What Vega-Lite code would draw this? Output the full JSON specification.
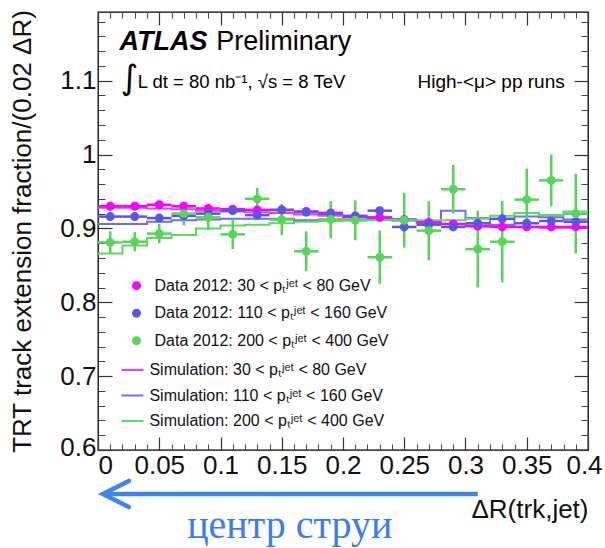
{
  "$schema": "https://vega.github.io/schema/vega-lite/v6.json",
  "width": 490,
  "height": 438,
  "autosize": {"type": "none"},
  "padding": {"left": 98, "top": 12, "right": 17, "bottom": 98},
  "background": "white",
  "datasets": {
    "pts": [
      {"s": "Data 2012: 30 < pₜʲᵉᵗ < 80 GeV", "x": 0.01, "y": 0.930, "e": 0.003, "dx": 0.01},
      {"s": "Data 2012: 30 < pₜʲᵉᵗ < 80 GeV", "x": 0.03, "y": 0.930, "e": 0.003, "dx": 0.01},
      {"s": "Data 2012: 30 < pₜʲᵉᵗ < 80 GeV", "x": 0.05, "y": 0.932, "e": 0.003, "dx": 0.01},
      {"s": "Data 2012: 30 < pₜʲᵉᵗ < 80 GeV", "x": 0.07, "y": 0.930, "e": 0.003, "dx": 0.01},
      {"s": "Data 2012: 30 < pₜʲᵉᵗ < 80 GeV", "x": 0.09, "y": 0.927, "e": 0.003, "dx": 0.01},
      {"s": "Data 2012: 30 < pₜʲᵉᵗ < 80 GeV", "x": 0.11, "y": 0.926, "e": 0.003, "dx": 0.01},
      {"s": "Data 2012: 30 < pₜʲᵉᵗ < 80 GeV", "x": 0.13, "y": 0.925, "e": 0.003, "dx": 0.01},
      {"s": "Data 2012: 30 < pₜʲᵉᵗ < 80 GeV", "x": 0.15, "y": 0.925, "e": 0.003, "dx": 0.01},
      {"s": "Data 2012: 30 < pₜʲᵉᵗ < 80 GeV", "x": 0.17, "y": 0.923, "e": 0.003, "dx": 0.01},
      {"s": "Data 2012: 30 < pₜʲᵉᵗ < 80 GeV", "x": 0.19, "y": 0.921, "e": 0.003, "dx": 0.01},
      {"s": "Data 2012: 30 < pₜʲᵉᵗ < 80 GeV", "x": 0.21, "y": 0.916, "e": 0.003, "dx": 0.01},
      {"s": "Data 2012: 30 < pₜʲᵉᵗ < 80 GeV", "x": 0.23, "y": 0.915, "e": 0.003, "dx": 0.01},
      {"s": "Data 2012: 30 < pₜʲᵉᵗ < 80 GeV", "x": 0.25, "y": 0.912, "e": 0.003, "dx": 0.01},
      {"s": "Data 2012: 30 < pₜʲᵉᵗ < 80 GeV", "x": 0.27, "y": 0.908, "e": 0.003, "dx": 0.01},
      {"s": "Data 2012: 30 < pₜʲᵉᵗ < 80 GeV", "x": 0.29, "y": 0.906, "e": 0.003, "dx": 0.01},
      {"s": "Data 2012: 30 < pₜʲᵉᵗ < 80 GeV", "x": 0.31, "y": 0.903, "e": 0.003, "dx": 0.01},
      {"s": "Data 2012: 30 < pₜʲᵉᵗ < 80 GeV", "x": 0.33, "y": 0.902, "e": 0.003, "dx": 0.01},
      {"s": "Data 2012: 30 < pₜʲᵉᵗ < 80 GeV", "x": 0.35, "y": 0.902, "e": 0.003, "dx": 0.01},
      {"s": "Data 2012: 30 < pₜʲᵉᵗ < 80 GeV", "x": 0.37, "y": 0.902, "e": 0.003, "dx": 0.01},
      {"s": "Data 2012: 30 < pₜʲᵉᵗ < 80 GeV", "x": 0.39, "y": 0.902, "e": 0.003, "dx": 0.01},
      {"s": "Data 2012: 110 < pₜʲᵉᵗ < 160 GeV", "x": 0.01, "y": 0.916, "e": 0.004, "dx": 0.01},
      {"s": "Data 2012: 110 < pₜʲᵉᵗ < 160 GeV", "x": 0.03, "y": 0.916, "e": 0.004, "dx": 0.01},
      {"s": "Data 2012: 110 < pₜʲᵉᵗ < 160 GeV", "x": 0.05, "y": 0.914, "e": 0.004, "dx": 0.01},
      {"s": "Data 2012: 110 < pₜʲᵉᵗ < 160 GeV", "x": 0.07, "y": 0.917, "e": 0.004, "dx": 0.01},
      {"s": "Data 2012: 110 < pₜʲᵉᵗ < 160 GeV", "x": 0.09, "y": 0.920, "e": 0.004, "dx": 0.01},
      {"s": "Data 2012: 110 < pₜʲᵉᵗ < 160 GeV", "x": 0.11, "y": 0.924, "e": 0.004, "dx": 0.01},
      {"s": "Data 2012: 110 < pₜʲᵉᵗ < 160 GeV", "x": 0.13, "y": 0.918, "e": 0.004, "dx": 0.01},
      {"s": "Data 2012: 110 < pₜʲᵉᵗ < 160 GeV", "x": 0.15, "y": 0.925, "e": 0.004, "dx": 0.01},
      {"s": "Data 2012: 110 < pₜʲᵉᵗ < 160 GeV", "x": 0.17, "y": 0.922, "e": 0.004, "dx": 0.01},
      {"s": "Data 2012: 110 < pₜʲᵉᵗ < 160 GeV", "x": 0.19, "y": 0.920, "e": 0.004, "dx": 0.01},
      {"s": "Data 2012: 110 < pₜʲᵉᵗ < 160 GeV", "x": 0.21, "y": 0.917, "e": 0.004, "dx": 0.01},
      {"s": "Data 2012: 110 < pₜʲᵉᵗ < 160 GeV", "x": 0.23, "y": 0.924, "e": 0.004, "dx": 0.01},
      {"s": "Data 2012: 110 < pₜʲᵉᵗ < 160 GeV", "x": 0.25, "y": 0.902, "e": 0.004, "dx": 0.01},
      {"s": "Data 2012: 110 < pₜʲᵉᵗ < 160 GeV", "x": 0.27, "y": 0.905, "e": 0.004, "dx": 0.01},
      {"s": "Data 2012: 110 < pₜʲᵉᵗ < 160 GeV", "x": 0.29, "y": 0.902, "e": 0.004, "dx": 0.01},
      {"s": "Data 2012: 110 < pₜʲᵉᵗ < 160 GeV", "x": 0.31, "y": 0.907, "e": 0.004, "dx": 0.01},
      {"s": "Data 2012: 110 < pₜʲᵉᵗ < 160 GeV", "x": 0.33, "y": 0.913, "e": 0.004, "dx": 0.01},
      {"s": "Data 2012: 110 < pₜʲᵉᵗ < 160 GeV", "x": 0.35, "y": 0.907, "e": 0.004, "dx": 0.01},
      {"s": "Data 2012: 110 < pₜʲᵉᵗ < 160 GeV", "x": 0.37, "y": 0.910, "e": 0.004, "dx": 0.01},
      {"s": "Data 2012: 110 < pₜʲᵉᵗ < 160 GeV", "x": 0.39, "y": 0.909, "e": 0.004, "dx": 0.01},
      {"s": "Data 2012: 200 < pₜʲᵉᵗ < 400 GeV", "x": 0.01, "y": 0.881, "e": 0.015, "dx": 0.01},
      {"s": "Data 2012: 200 < pₜʲᵉᵗ < 400 GeV", "x": 0.03, "y": 0.882, "e": 0.013, "dx": 0.01},
      {"s": "Data 2012: 200 < pₜʲᵉᵗ < 400 GeV", "x": 0.05, "y": 0.893, "e": 0.013, "dx": 0.01},
      {"s": "Data 2012: 200 < pₜʲᵉᵗ < 400 GeV", "x": 0.07, "y": 0.920, "e": 0.016, "dx": 0.01},
      {"s": "Data 2012: 200 < pₜʲᵉᵗ < 400 GeV", "x": 0.09, "y": 0.915, "e": 0.017, "dx": 0.01},
      {"s": "Data 2012: 200 < pₜʲᵉᵗ < 400 GeV", "x": 0.11, "y": 0.892, "e": 0.020, "dx": 0.01},
      {"s": "Data 2012: 200 < pₜʲᵉᵗ < 400 GeV", "x": 0.13, "y": 0.940, "e": 0.015, "dx": 0.01},
      {"s": "Data 2012: 200 < pₜʲᵉᵗ < 400 GeV", "x": 0.15, "y": 0.912, "e": 0.021, "dx": 0.01},
      {"s": "Data 2012: 200 < pₜʲᵉᵗ < 400 GeV", "x": 0.17, "y": 0.869, "e": 0.027, "dx": 0.01},
      {"s": "Data 2012: 200 < pₜʲᵉᵗ < 400 GeV", "x": 0.19, "y": 0.912, "e": 0.025, "dx": 0.01},
      {"s": "Data 2012: 200 < pₜʲᵉᵗ < 400 GeV", "x": 0.21, "y": 0.911, "e": 0.027, "dx": 0.01},
      {"s": "Data 2012: 200 < pₜʲᵉᵗ < 400 GeV", "x": 0.23, "y": 0.861, "e": 0.036, "dx": 0.01},
      {"s": "Data 2012: 200 < pₜʲᵉᵗ < 400 GeV", "x": 0.25, "y": 0.911, "e": 0.037, "dx": 0.01},
      {"s": "Data 2012: 200 < pₜʲᵉᵗ < 400 GeV", "x": 0.27, "y": 0.897, "e": 0.040, "dx": 0.01},
      {"s": "Data 2012: 200 < pₜʲᵉᵗ < 400 GeV", "x": 0.29, "y": 0.953, "e": 0.033, "dx": 0.01},
      {"s": "Data 2012: 200 < pₜʲᵉᵗ < 400 GeV", "x": 0.31, "y": 0.872, "e": 0.052, "dx": 0.01},
      {"s": "Data 2012: 200 < pₜʲᵉᵗ < 400 GeV", "x": 0.33, "y": 0.882, "e": 0.055, "dx": 0.01},
      {"s": "Data 2012: 200 < pₜʲᵉᵗ < 400 GeV", "x": 0.35, "y": 0.939, "e": 0.042, "dx": 0.01},
      {"s": "Data 2012: 200 < pₜʲᵉᵗ < 400 GeV", "x": 0.37, "y": 0.965, "e": 0.035, "dx": 0.01},
      {"s": "Data 2012: 200 < pₜʲᵉᵗ < 400 GeV", "x": 0.39, "y": 0.920, "e": 0.054, "dx": 0.01}
    ],
    "sim": [
      {"s": "Simulation: 30 < pₜʲᵉᵗ < 80 GeV", "x": 0.00, "y": 0.928},
      {"s": "Simulation: 30 < pₜʲᵉᵗ < 80 GeV", "x": 0.02, "y": 0.928},
      {"s": "Simulation: 30 < pₜʲᵉᵗ < 80 GeV", "x": 0.04, "y": 0.927},
      {"s": "Simulation: 30 < pₜʲᵉᵗ < 80 GeV", "x": 0.06, "y": 0.926},
      {"s": "Simulation: 30 < pₜʲᵉᵗ < 80 GeV", "x": 0.08, "y": 0.924},
      {"s": "Simulation: 30 < pₜʲᵉᵗ < 80 GeV", "x": 0.10, "y": 0.923},
      {"s": "Simulation: 30 < pₜʲᵉᵗ < 80 GeV", "x": 0.12, "y": 0.922},
      {"s": "Simulation: 30 < pₜʲᵉᵗ < 80 GeV", "x": 0.14, "y": 0.921},
      {"s": "Simulation: 30 < pₜʲᵉᵗ < 80 GeV", "x": 0.16, "y": 0.919},
      {"s": "Simulation: 30 < pₜʲᵉᵗ < 80 GeV", "x": 0.18, "y": 0.917},
      {"s": "Simulation: 30 < pₜʲᵉᵗ < 80 GeV", "x": 0.20, "y": 0.915},
      {"s": "Simulation: 30 < pₜʲᵉᵗ < 80 GeV", "x": 0.22, "y": 0.913},
      {"s": "Simulation: 30 < pₜʲᵉᵗ < 80 GeV", "x": 0.24, "y": 0.911},
      {"s": "Simulation: 30 < pₜʲᵉᵗ < 80 GeV", "x": 0.26, "y": 0.908},
      {"s": "Simulation: 30 < pₜʲᵉᵗ < 80 GeV", "x": 0.28, "y": 0.906},
      {"s": "Simulation: 30 < pₜʲᵉᵗ < 80 GeV", "x": 0.30, "y": 0.904},
      {"s": "Simulation: 30 < pₜʲᵉᵗ < 80 GeV", "x": 0.32, "y": 0.903},
      {"s": "Simulation: 30 < pₜʲᵉᵗ < 80 GeV", "x": 0.34, "y": 0.902},
      {"s": "Simulation: 30 < pₜʲᵉᵗ < 80 GeV", "x": 0.36, "y": 0.901},
      {"s": "Simulation: 30 < pₜʲᵉᵗ < 80 GeV", "x": 0.38, "y": 0.901},
      {"s": "Simulation: 30 < pₜʲᵉᵗ < 80 GeV", "x": 0.40, "y": 0.901},
      {"s": "Simulation: 110 < pₜʲᵉᵗ < 160 GeV", "x": 0.00, "y": 0.906},
      {"s": "Simulation: 110 < pₜʲᵉᵗ < 160 GeV", "x": 0.02, "y": 0.906},
      {"s": "Simulation: 110 < pₜʲᵉᵗ < 160 GeV", "x": 0.04, "y": 0.909},
      {"s": "Simulation: 110 < pₜʲᵉᵗ < 160 GeV", "x": 0.06, "y": 0.911},
      {"s": "Simulation: 110 < pₜʲᵉᵗ < 160 GeV", "x": 0.08, "y": 0.912},
      {"s": "Simulation: 110 < pₜʲᵉᵗ < 160 GeV", "x": 0.10, "y": 0.913},
      {"s": "Simulation: 110 < pₜʲᵉᵗ < 160 GeV", "x": 0.12, "y": 0.913},
      {"s": "Simulation: 110 < pₜʲᵉᵗ < 160 GeV", "x": 0.14, "y": 0.913},
      {"s": "Simulation: 110 < pₜʲᵉᵗ < 160 GeV", "x": 0.16, "y": 0.911},
      {"s": "Simulation: 110 < pₜʲᵉᵗ < 160 GeV", "x": 0.18, "y": 0.912},
      {"s": "Simulation: 110 < pₜʲᵉᵗ < 160 GeV", "x": 0.20, "y": 0.912},
      {"s": "Simulation: 110 < pₜʲᵉᵗ < 160 GeV", "x": 0.22, "y": 0.913},
      {"s": "Simulation: 110 < pₜʲᵉᵗ < 160 GeV", "x": 0.24, "y": 0.911},
      {"s": "Simulation: 110 < pₜʲᵉᵗ < 160 GeV", "x": 0.26, "y": 0.910},
      {"s": "Simulation: 110 < pₜʲᵉᵗ < 160 GeV", "x": 0.28, "y": 0.924},
      {"s": "Simulation: 110 < pₜʲᵉᵗ < 160 GeV", "x": 0.30, "y": 0.914},
      {"s": "Simulation: 110 < pₜʲᵉᵗ < 160 GeV", "x": 0.32, "y": 0.905},
      {"s": "Simulation: 110 < pₜʲᵉᵗ < 160 GeV", "x": 0.34, "y": 0.916},
      {"s": "Simulation: 110 < pₜʲᵉᵗ < 160 GeV", "x": 0.36, "y": 0.915},
      {"s": "Simulation: 110 < pₜʲᵉᵗ < 160 GeV", "x": 0.38, "y": 0.912},
      {"s": "Simulation: 110 < pₜʲᵉᵗ < 160 GeV", "x": 0.40, "y": 0.912},
      {"s": "Simulation: 200 < pₜʲᵉᵗ < 400 GeV", "x": 0.00, "y": 0.866},
      {"s": "Simulation: 200 < pₜʲᵉᵗ < 400 GeV", "x": 0.02, "y": 0.877},
      {"s": "Simulation: 200 < pₜʲᵉᵗ < 400 GeV", "x": 0.04, "y": 0.887},
      {"s": "Simulation: 200 < pₜʲᵉᵗ < 400 GeV", "x": 0.06, "y": 0.891},
      {"s": "Simulation: 200 < pₜʲᵉᵗ < 400 GeV", "x": 0.08, "y": 0.900},
      {"s": "Simulation: 200 < pₜʲᵉᵗ < 400 GeV", "x": 0.10, "y": 0.904},
      {"s": "Simulation: 200 < pₜʲᵉᵗ < 400 GeV", "x": 0.12, "y": 0.905},
      {"s": "Simulation: 200 < pₜʲᵉᵗ < 400 GeV", "x": 0.14, "y": 0.907},
      {"s": "Simulation: 200 < pₜʲᵉᵗ < 400 GeV", "x": 0.16, "y": 0.909},
      {"s": "Simulation: 200 < pₜʲᵉᵗ < 400 GeV", "x": 0.18, "y": 0.910},
      {"s": "Simulation: 200 < pₜʲᵉᵗ < 400 GeV", "x": 0.20, "y": 0.911},
      {"s": "Simulation: 200 < pₜʲᵉᵗ < 400 GeV", "x": 0.22, "y": 0.911},
      {"s": "Simulation: 200 < pₜʲᵉᵗ < 400 GeV", "x": 0.24, "y": 0.912},
      {"s": "Simulation: 200 < pₜʲᵉᵗ < 400 GeV", "x": 0.26, "y": 0.911},
      {"s": "Simulation: 200 < pₜʲᵉᵗ < 400 GeV", "x": 0.28, "y": 0.911},
      {"s": "Simulation: 200 < pₜʲᵉᵗ < 400 GeV", "x": 0.30, "y": 0.913},
      {"s": "Simulation: 200 < pₜʲᵉᵗ < 400 GeV", "x": 0.32, "y": 0.917},
      {"s": "Simulation: 200 < pₜʲᵉᵗ < 400 GeV", "x": 0.34, "y": 0.921},
      {"s": "Simulation: 200 < pₜʲᵉᵗ < 400 GeV", "x": 0.36, "y": 0.918},
      {"s": "Simulation: 200 < pₜʲᵉᵗ < 400 GeV", "x": 0.38, "y": 0.923},
      {"s": "Simulation: 200 < pₜʲᵉᵗ < 400 GeV", "x": 0.40, "y": 0.923}
    ]
  },
  "resolve": {
    "scale": {"color": "independent"},
    "axis": {"x": "independent", "y": "independent"}
  },
  "layer": [
    {
      "data": {"name": "sim"},
      "mark": {"type": "line", "interpolate": "step-after", "strokeWidth": 2},
      "encoding": {
        "x": {"field": "x", "type": "quantitative",
              "scale": {"domain": [0, 0.4], "nice": false, "zero": false},
              "axis": {"orient": "bottom", "ticks": false, "labels": true, "labelFlush": false, "labelPadding": 2, "format": "~g",
                       "labelOffset": {"condition": {"test": "datum.value >= 0.39", "value": -4}, "value": 0},
                       "labelAlign": {"condition": {"test": "datum.value <= 0.001", "value": "left"}, "value": "center"},
                       "values": [0, 0.05, 0.1, 0.15, 0.2, 0.25, 0.3, 0.35, 0.4],
                       "title": "ΔR(trk,jet)", "titleAnchor": "end", "titleAlign": "right", "titleX": 490, "titleY": 67, "titleBaseline": "alphabetic"}},
        "y": {"field": "y", "type": "quantitative",
              "scale": {"domain": [0.6, 1.193], "nice": false, "zero": false},
              "axis": {"orient": "left", "ticks": false, "labels": true, "labelFlush": false, "labelPadding": 2, "format": "~g",
                       "labelOffset": {"condition": {"test": "datum.value <= 0.601", "value": -3}, "value": 0},
                       "values": [0.6, 0.7, 0.8, 0.9, 1.0, 1.1],
                       "title": "TRT track extension fraction/(0.02 ΔR)", "titleX": -76, "titleY": 219, "titleAngle": -90, "titleAlign": "center", "titleBaseline": "middle"}},
        "color": {"field": "s", "type": "nominal",
                  "scale": {"domain": ["Simulation: 30 < pₜʲᵉᵗ < 80 GeV", "Simulation: 110 < pₜʲᵉᵗ < 160 GeV", "Simulation: 200 < pₜʲᵉᵗ < 400 GeV"],
                            "range": ["#ff33ff", "#6e6ef0", "#5fd95f"]},
                  "legend": {"orient": "none", "legendX": 22.4, "legendY": 346, "title": null, "symbolType": "stroke", "symbolSize": 484, "symbolStrokeWidth": 2, "labelOffset": 5, "rowPadding": 5.5, "labelFontSize": 16, "labelFont": "Liberation Sans", "labelColor": "#111", "padding": 0, "labelLimit": 400}}
      }
    },
    {
      "data": {"name": "pts"},
      "mark": {"type": "errorbar", "thickness": 2.5},
      "encoding": {
        "x": {"field": "x", "type": "quantitative",
              "axis": {"orient": "bottom", "labels": false, "title": null, "tickSize": -13, "tickWidth": 1.2, "tickColor": "#333",
                       "values": [0, 0.05, 0.1, 0.15, 0.2, 0.25, 0.3, 0.35, 0.4]}},
        "y": {"field": "y", "type": "quantitative",
              "axis": {"orient": "left", "labels": false, "title": null, "tickSize": -14, "tickWidth": 1.2, "tickColor": "#333",
                       "values": [0.6, 0.7, 0.8, 0.9, 1.0, 1.1]}},
        "yError": {"field": "e"},
        "color": {"field": "s", "type": "nominal",
                  "scale": {"domain": ["Data 2012: 30 < pₜʲᵉᵗ < 80 GeV", "Data 2012: 110 < pₜʲᵉᵗ < 160 GeV", "Data 2012: 200 < pₜʲᵉᵗ < 400 GeV"],
                            "range": ["#ff00ff", "#5757e3", "#56d656"]},
                  "legend": null}
      }
    },
    {
      "data": {"name": "pts"},
      "mark": {"type": "errorbar", "thickness": 2.5},
      "encoding": {
        "x": {"field": "x", "type": "quantitative",
              "axis": {"orient": "bottom", "labels": false, "title": null, "tickSize": -6, "tickWidth": 1, "tickColor": "#444",
                       "values": [0.01, 0.02, 0.03, 0.04, 0.06, 0.07, 0.08, 0.09, 0.11, 0.12, 0.13, 0.14, 0.16, 0.17, 0.18, 0.19, 0.21, 0.22, 0.23, 0.24, 0.26, 0.27, 0.28, 0.29, 0.31, 0.32, 0.33, 0.34, 0.36, 0.37, 0.38, 0.39]}},
        "y": {"field": "y", "type": "quantitative",
              "axis": {"orient": "left", "labels": false, "title": null, "tickSize": -7, "tickWidth": 1, "tickColor": "#444",
                       "values": [0.62, 0.64, 0.66, 0.68, 0.72, 0.74, 0.76, 0.78, 0.82, 0.84, 0.86, 0.88, 0.92, 0.94, 0.96, 0.98, 1.02, 1.04, 1.06, 1.08, 1.12, 1.14, 1.16, 1.18]}},
        "xError": {"field": "dx"},
        "color": {"field": "s", "type": "nominal",
                  "scale": {"domain": ["Data 2012: 30 < pₜʲᵉᵗ < 80 GeV", "Data 2012: 110 < pₜʲᵉᵗ < 160 GeV", "Data 2012: 200 < pₜʲᵉᵗ < 400 GeV"],
                            "range": ["#ff00ff", "#5757e3", "#56d656"]},
                  "legend": null}
      }
    },
    {
      "data": {"name": "pts"},
      "mark": {"type": "circle", "size": 80, "opacity": 1},
      "encoding": {
        "x": {"field": "x", "type": "quantitative",
              "axis": {"orient": "top", "labels": false, "title": null, "tickSize": -13, "tickWidth": 1.2, "tickColor": "#333",
                       "values": [0, 0.05, 0.1, 0.15, 0.2, 0.25, 0.3, 0.35, 0.4]}},
        "y": {"field": "y", "type": "quantitative",
              "axis": {"orient": "right", "labels": false, "title": null, "tickSize": -14, "tickWidth": 1.2, "tickColor": "#333",
                       "values": [0.6, 0.7, 0.8, 0.9, 1.0, 1.1]}},
        "color": {"field": "s", "type": "nominal",
                  "scale": {"domain": ["Data 2012: 30 < pₜʲᵉᵗ < 80 GeV", "Data 2012: 110 < pₜʲᵉᵗ < 160 GeV", "Data 2012: 200 < pₜʲᵉᵗ < 400 GeV"],
                            "range": ["#ff00ff", "#5757e3", "#56d656"]},
                  "legend": {"orient": "none", "legendX": 30.5, "legendY": 265.7, "title": null, "symbolType": "circle", "symbolSize": 80, "symbolStrokeWidth": 0, "labelOffset": 10, "rowPadding": 11.5, "labelFontSize": 16, "labelFont": "Liberation Sans", "labelColor": "#111", "padding": 0, "labelLimit": 400}}
      }
    },
    {
      "data": {"values": [{}]},
      "mark": {"type": "text", "text": "ATLAS", "font": "Liberation Sans", "fontWeight": "bold", "fontStyle": "italic", "fontSize": 27, "align": "left", "baseline": "alphabetic", "color": "#000"},
      "encoding": {
        "x": {"datum": 0.0176, "type": "quantitative",
              "axis": {"orient": "top", "labels": false, "title": null, "tickSize": -6, "tickWidth": 1, "tickColor": "#444",
                       "values": [0.01, 0.02, 0.03, 0.04, 0.06, 0.07, 0.08, 0.09, 0.11, 0.12, 0.13, 0.14, 0.16, 0.17, 0.18, 0.19, 0.21, 0.22, 0.23, 0.24, 0.26, 0.27, 0.28, 0.29, 0.31, 0.32, 0.33, 0.34, 0.36, 0.37, 0.38, 0.39]}},
        "y": {"datum": 1.141, "type": "quantitative",
              "axis": {"orient": "right", "labels": false, "title": null, "tickSize": -7, "tickWidth": 1, "tickColor": "#444",
                       "values": [0.62, 0.64, 0.66, 0.68, 0.72, 0.74, 0.76, 0.78, 0.82, 0.84, 0.86, 0.88, 0.92, 0.94, 0.96, 0.98, 1.02, 1.04, 1.06, 1.08, 1.12, 1.14, 1.16, 1.18]}}
      }
    },
    {
      "data": {"values": [{}]},
      "mark": {"type": "text", "text": "Preliminary", "font": "Liberation Sans", "fontSize": 27, "align": "left", "baseline": "alphabetic", "color": "#000"},
      "encoding": {
        "x": {"datum": 0.0965, "type": "quantitative", "axis": null},
        "y": {"datum": 1.141, "type": "quantitative", "axis": null}
      }
    },
    {
      "data": {"values": [{}]},
      "mark": {"type": "text", "text": "∫", "font": "DejaVu Sans", "fontSize": 34, "align": "left", "baseline": "middle", "color": "#000"},
      "encoding": {
        "x": {"datum": 0.0185, "type": "quantitative", "axis": null},
        "y": {"datum": 1.1025, "type": "quantitative", "axis": null}
      }
    },
    {
      "data": {"values": [{}]},
      "mark": {"type": "text", "text": "L dt = 80 nb⁻¹, √s = 8 TeV", "font": "Liberation Sans", "fontSize": 18.5, "align": "left", "baseline": "alphabetic", "color": "#000"},
      "encoding": {
        "x": {"datum": 0.0325, "type": "quantitative", "axis": null},
        "y": {"datum": 1.0901, "type": "quantitative", "axis": null}
      }
    },
    {
      "data": {"values": [{}]},
      "mark": {"type": "text", "text": "High-<μ> pp runs", "font": "Liberation Sans", "fontSize": 19, "align": "right", "baseline": "alphabetic", "color": "#000"},
      "encoding": {
        "x": {"datum": 0.381, "type": "quantitative", "axis": null},
        "y": {"datum": 1.0901, "type": "quantitative", "axis": null}
      }
    },
    {
      "data": {"values": [{}]},
      "mark": {"type": "rule", "strokeWidth": 4.5, "color": "#3d86f0"},
      "encoding": {
        "x": {"datum": 0.0045, "type": "quantitative", "axis": null},
        "x2": {"datum": 0.31},
        "y": {"datum": 0.5405, "type": "quantitative", "axis": null}
      }
    },
    {
      "data": {"values": [{}]},
      "mark": {"type": "point", "shape": "M1,-1L-1,0L1,1", "size": 676, "filled": false, "strokeWidth": 4.5, "color": "#3d86f0", "strokeCap": "round", "strokeJoin": "miter", "opacity": 1},
      "encoding": {
        "x": {"datum": 0.0146, "type": "quantitative", "axis": null},
        "y": {"datum": 0.5405, "type": "quantitative", "axis": null}
      }
    },
    {
      "data": {"values": [{}]},
      "mark": {"type": "text", "text": "центр струи", "font": "Liberation Serif", "fontSize": 40, "align": "center", "baseline": "alphabetic", "color": "#3b7de9"},
      "encoding": {
        "x": {"datum": 0.1565, "type": "quantitative", "axis": null},
        "y": {"datum": 0.4815, "type": "quantitative", "axis": null}
      }
    }
  ],
  "config": {
    "view": {"stroke": "#000", "strokeWidth": 1.3},
    "axis": {"domain": false, "grid": false, "labelFont": "Liberation Sans", "titleFont": "Liberation Sans",
             "labelColor": "#111", "titleColor": "#111", "labelFontSize": 26, "titleFontSize": 26, "titleFontWeight": "normal"}
  }
}
